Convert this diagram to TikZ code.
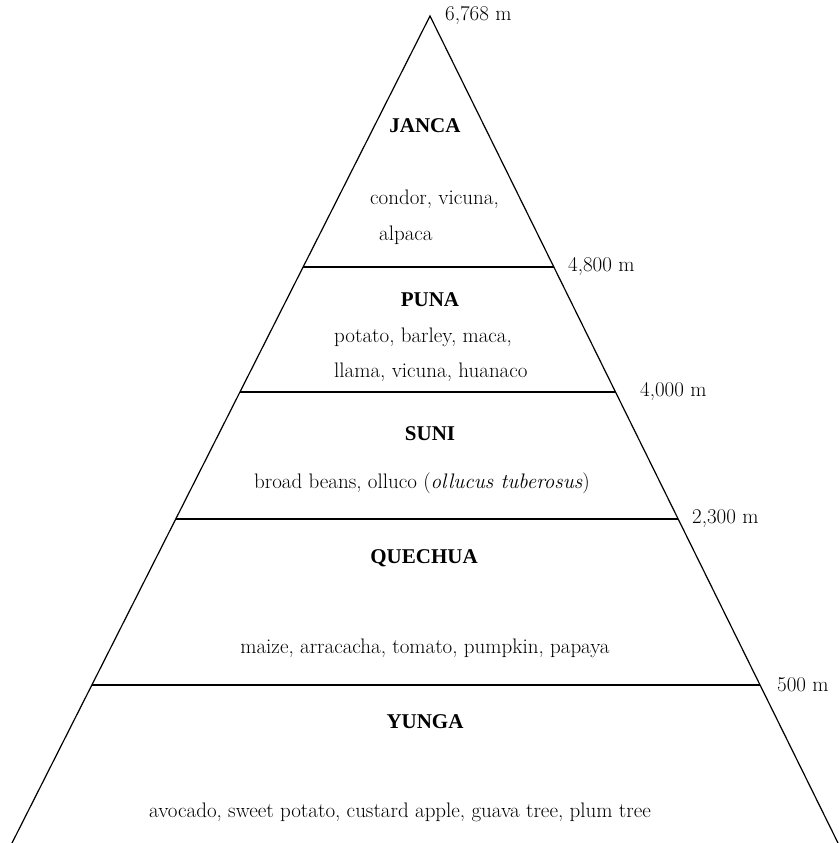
\documentclass[tikz,border=0pt]{standalone}
\usepackage{fontspec}
\newfontfamily\titlefont{Liberation Serif}
\usetikzlibrary{calc}
\begin{document}
\begin{tikzpicture}[x=1pt,y=-1pt,
  txt/.style={inner sep=0pt,font=\fontsize{21}{25}\selectfont},
  zone/.style={inner sep=0pt,font=\titlefont\fontsize{21}{25}\selectfont\bfseries},
  alt/.style={txt,anchor=west},
  edge/.style={line width=1.2pt,black}]
\useasboundingbox (0,0) rectangle (838,843);
\coordinate (A) at (430,16);
\coordinate (BL) at (12,843);
\coordinate (BR) at (838,843);
\draw[edge] (BL) -- (A) -- (BR);
% altitude lines
\foreach \nm/\yy in {l48/267,l40/392,l23/519,l05/685}{
  \pgfmathsetmacro{\t}{(\yy-16)/827}
  \coordinate (\nm L) at ($(A)!\t!(BL)$);
  \coordinate (\nm R) at ($(A)!\t!(BR)$);
  \draw[edge] (\nm L) -- (\nm R);
}
% altitude labels
\node[alt] (a1) at (445,15) {6,768 m};
\node[alt] (a2) at (568,267) {4,800 m};
\node[alt] (a3) at (640,392) {4,000 m};
\node[alt] (a4) at (692,519) {2,300 m};
\node[alt] (a5) at (777,685) {500 m};
% zones
\node[zone] (janca) at (425,126) {JANCA};
\node[txt,anchor=west] (j1) at (370,199) {condor, vicuna,};
\node[txt,anchor=west] (j2) at (379,235) {alpaca};
\node[zone] (puna) at (430,300) {PUNA};
\node[txt,anchor=west] (p1) at (334,337) {potato, barley, maca,};
\node[txt,anchor=west] (p2) at (334,372) {llama, vicuna, huanaco};
\node[zone] (suni) at (430,434) {SUNI};
\node[txt] (s1) at (422,483) {broad beans, olluco (\textit{ollucus tuberosus})};
\node[zone] (quechua) at (424,558) {QUECHUA};
\node[txt] (q1) at (425,648) {maize, arracacha, tomato, pumpkin, papaya};
\node[zone] (yunga) at (425,722) {YUNGA};
\node[txt] (y1) at (400,812) {avocado, sweet potato, custard apple, guava tree, plum tree};
\end{tikzpicture}
\end{document}
